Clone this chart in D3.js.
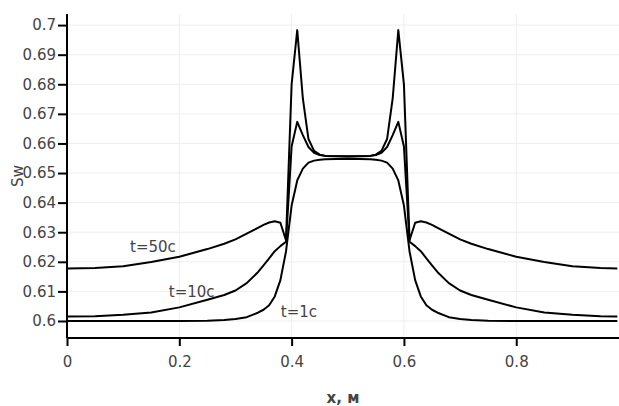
<!DOCTYPE html>
<html><head><meta charset="utf-8">
<script src="https://cdn.jsdelivr.net/npm/d3@7/dist/d3.min.js"></script>
<style>body{margin:0;background:#fff}svg{display:block}</style>
</head><body><svg id="c" width="619" height="406"></svg>
<script>
const xValues = [0, 0.05, 0.1, 0.15, 0.2, 0.25, 0.28, 0.3, 0.32, 0.34, 0.35, 0.36, 0.37, 0.38, 0.39, 0.40, 0.41, 0.42, 0.43, 0.44, 0.45, 0.46,
  0.5,
  0.54, 0.55, 0.56, 0.57, 0.58, 0.59, 0.60, 0.61, 0.62, 0.63, 0.64, 0.65, 0.66, 0.68, 0.70, 0.72, 0.75, 0.80, 0.85, 0.90, 0.95, 0.98];
const sw50 = [0.6177, 0.6179, 0.6185, 0.6199, 0.6217, 0.6243, 0.6261, 0.6276, 0.6295, 0.6315, 0.6325, 0.6333, 0.6337, 0.6332, 0.6273, 0.6800, 0.6983, 0.6752, 0.6615, 0.6575, 0.6562, 0.6558,
  0.6556,
  0.6558, 0.6562, 0.6575, 0.6615, 0.6752, 0.6983, 0.6800, 0.6273, 0.6332, 0.6337, 0.6333, 0.6325, 0.6315, 0.6295, 0.6276, 0.6261, 0.6243, 0.6217, 0.6199, 0.6185, 0.6179, 0.6177];
const sw10 = [0.6015, 0.6016, 0.6021, 0.6029, 0.6046, 0.6072, 0.6088, 0.6103, 0.6128, 0.6165, 0.6188, 0.6212, 0.6236, 0.6253, 0.6268, 0.6590, 0.6673, 0.6628, 0.6588, 0.6568, 0.6561, 0.6558,
  0.6557,
  0.6558, 0.6561, 0.6568, 0.6588, 0.6628, 0.6673, 0.6590, 0.6268, 0.6253, 0.6236, 0.6212, 0.6188, 0.6165, 0.6128, 0.6103, 0.6088, 0.6072, 0.6046, 0.6029, 0.6021, 0.6016, 0.6015];
const sw1 = [0.6000, 0.6000, 0.6000, 0.6000, 0.6000, 0.6001, 0.6003, 0.6007, 0.6013, 0.6028, 0.6038, 0.6053, 0.6083, 0.6138, 0.6235, 0.6390, 0.6475, 0.6515, 0.6535, 0.6542, 0.6545, 0.6547,
  0.6548,
  0.6547, 0.6545, 0.6542, 0.6535, 0.6515, 0.6475, 0.6390, 0.6235, 0.6138, 0.6083, 0.6053, 0.6038, 0.6028, 0.6013, 0.6007, 0.6003, 0.6001, 0.6000, 0.6000, 0.6000, 0.6000, 0.6000];
const seriesNames = ["t=50c", "t=10c", "t=1c"];
const xTicks = [0, 0.2, 0.4, 0.6, 0.8];
const yTicks = [0.6, 0.61, 0.62, 0.63, 0.64, 0.65, 0.66, 0.67, 0.68, 0.69, 0.7];
const labelPos = [[0.153, 0.6249], [0.222, 0.6099], [0.413, 0.6030]];

const svg = d3.select("#c");
const L = 67, R = 619, T = 14, B = 338;
const x = d3.scaleLinear().domain([0, 0.983]).range([L, R]);
const y = d3.scaleLinear().domain([0.59425, 0.70375]).range([B, T]);
const font = "DejaVu Sans, sans-serif";

// grid
svg.append("g").selectAll("line").data(xTicks.filter(d => d > 0)).join("line")
  .attr("x1", d => x(d)).attr("x2", d => x(d)).attr("y1", T).attr("y2", B)
  .attr("stroke", "#eee").attr("stroke-width", 1);
svg.append("g").selectAll("line").data(yTicks).join("line")
  .attr("x1", L).attr("x2", R).attr("y1", d => y(d)).attr("y2", d => y(d))
  .attr("stroke", "#eee").attr("stroke-width", 1);

// lines
const rows = [sw50, sw10, sw1];
const line = d3.line().x((d, i) => x(xValues[i])).y(d => y(d));
svg.append("g").selectAll("path").data(rows).join("path")
  .attr("d", d => line(d)).attr("fill", "none").attr("stroke", "#000")
  .attr("stroke-width", 2).attr("stroke-linejoin", "round");

// axes
const xAxis = d3.axisBottom(x).tickValues(xTicks).tickFormat(d3.format("~g")).tickSizeOuter(0).tickSize(8).tickPadding(10);
const gx = svg.append("g").attr("transform", `translate(0,${B})`).call(xAxis);
const yAxis = d3.axisLeft(y).tickValues(yTicks).tickFormat(d3.format("~g")).tickSizeOuter(0).tickSize(9).tickPadding(2);
const gy = svg.append("g").attr("transform", `translate(${L},0)`).call(yAxis);
[gx, gy].forEach(g => {
  g.select(".domain").attr("stroke", "#000").attr("stroke-width", 2);
  g.selectAll(".tick line").attr("stroke", "#000").attr("stroke-width", 2);
  g.selectAll(".tick text").attr("fill", "#444").style("font-family", font).style("font-size", "15px");
});
gx.select(".domain").attr("d", `M${L},0H${R}`);
gy.select(".domain").attr("d", `M0,${T}V${B}`);

// labels
svg.append("g").selectAll("text").data(seriesNames).join("text")
  .attr("x", (d, i) => x(labelPos[i][0])).attr("y", (d, i) => y(labelPos[i][1]))
  .attr("text-anchor", "middle").attr("dominant-baseline", "central")
  .attr("fill", "#444").style("font-family", font).style("font-size", "15px")
  .text(d => d);

svg.append("text").attr("x", (L + R) / 2).attr("y", 398).attr("text-anchor", "middle")
  .attr("dominant-baseline", "central").attr("fill", "#444")
  .style("font-family", font).style("font-size", "15px").style("font-weight", "bold").text("x, м");
svg.append("text").attr("transform", `translate(18,${(T + B) / 2}) rotate(-90)`)
  .attr("text-anchor", "middle").attr("dominant-baseline", "central").attr("fill", "#444")
  .style("font-family", font).style("font-size", "15px").text("Sw");
</script></body></html>
